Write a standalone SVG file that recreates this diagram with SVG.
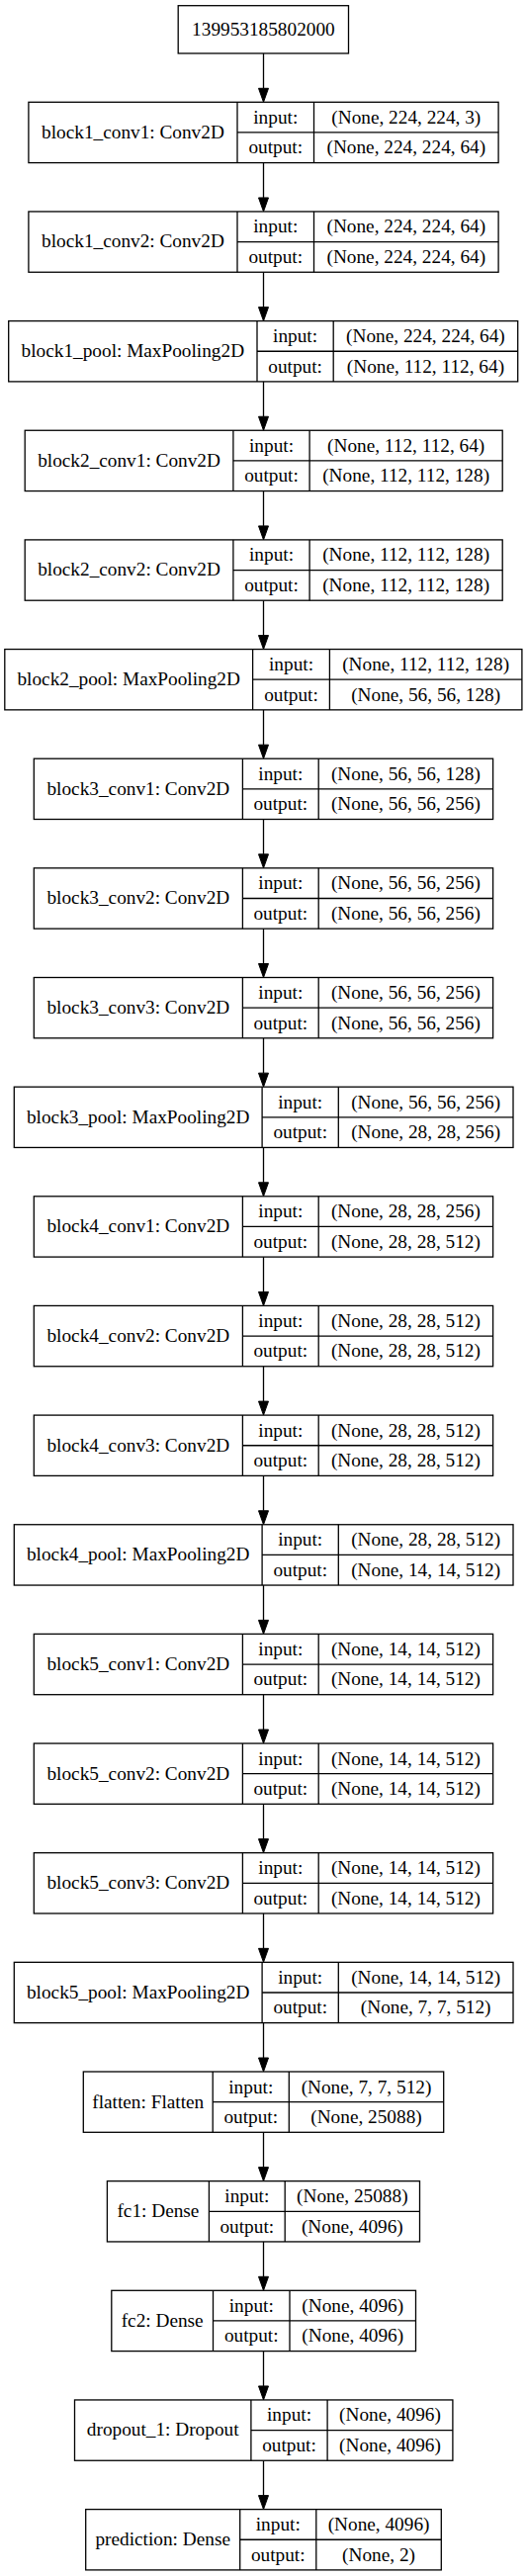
<svg xmlns="http://www.w3.org/2000/svg" width="533" height="2605" viewBox="0 0 533 2605">
<style>
.b{fill:#fff;stroke:#000;stroke-width:1.3}
.d{stroke:#000;stroke-width:1.3}
text{font-family:"Liberation Serif","Times New Roman",serif;font-size:19.3px;fill:#000;text-anchor:middle}
.e{stroke:#000;stroke-width:1.3;fill:none;marker-end:url(#ah)}
</style>
<defs>
<marker id="ah" markerUnits="userSpaceOnUse" markerWidth="14" markerHeight="10" refX="0" refY="5" orient="auto" overflow="visible">
<path d="M0,0 L14,5 L0,10 z" fill="#000" stroke="#000" stroke-width="1"/>
</marker>
</defs>
<rect width="533" height="2605" fill="#fff"/>
<g id="connectors">
<line class="e" x1="266.5" y1="54" x2="266.5" y2="89.3"/>
<line class="e" x1="266.5" y1="164.6" x2="266.5" y2="199.95"/>
<line class="e" x1="266.5" y1="275.25" x2="266.5" y2="310.6"/>
<line class="e" x1="266.5" y1="385.9" x2="266.5" y2="421.25"/>
<line class="e" x1="266.5" y1="496.55" x2="266.5" y2="531.9"/>
<line class="e" x1="266.5" y1="607.2" x2="266.5" y2="642.55"/>
<line class="e" x1="266.5" y1="717.85" x2="266.5" y2="753.2"/>
<line class="e" x1="266.5" y1="828.5" x2="266.5" y2="863.85"/>
<line class="e" x1="266.5" y1="939.15" x2="266.5" y2="974.5"/>
<line class="e" x1="266.5" y1="1049.8" x2="266.5" y2="1085.15"/>
<line class="e" x1="266.5" y1="1160.45" x2="266.5" y2="1195.8"/>
<line class="e" x1="266.5" y1="1271.1" x2="266.5" y2="1306.45"/>
<line class="e" x1="266.5" y1="1381.75" x2="266.5" y2="1417.1"/>
<line class="e" x1="266.5" y1="1492.4" x2="266.5" y2="1527.75"/>
<line class="e" x1="266.5" y1="1603.05" x2="266.5" y2="1638.4"/>
<line class="e" x1="266.5" y1="1713.7" x2="266.5" y2="1749.05"/>
<line class="e" x1="266.5" y1="1824.35" x2="266.5" y2="1859.7"/>
<line class="e" x1="266.5" y1="1935" x2="266.5" y2="1970.35"/>
<line class="e" x1="266.5" y1="2045.65" x2="266.5" y2="2081"/>
<line class="e" x1="266.5" y1="2156.3" x2="266.5" y2="2191.65"/>
<line class="e" x1="266.5" y1="2266.95" x2="266.5" y2="2302.3"/>
<line class="e" x1="266.5" y1="2377.6" x2="266.5" y2="2412.95"/>
<line class="e" x1="266.5" y1="2488.25" x2="266.5" y2="2523.6"/>
</g>
<g id="input_node">
<rect class="b" x="180.2" y="5.7" width="172.3" height="48.3"/>
<text x="266.4" y="35.5">139953185802000</text>
</g>
<g id="block1_conv1" transform="translate(0,103.3)">
<rect class="b" x="28.9" y="0" width="475.2" height="61.3"/>
<line class="d" x1="240" y1="0" x2="240" y2="61.3"/><line class="d" x1="317.5" y1="0" x2="317.5" y2="61.3"/><line class="d" x1="240" y1="30.65" x2="504.1" y2="30.65"/>
<text x="134.45" y="36.5">block1_conv1: Conv2D</text>
<text x="278.75" y="21.5">input:</text><text x="278.75" y="52">output:</text>
<text x="410.8" y="21.5">(None, 224, 224, 3)</text><text x="410.8" y="52">(None, 224, 224, 64)</text>
</g>
<g id="block1_conv2" transform="translate(0,213.95)">
<rect class="b" x="28.9" y="0" width="475.2" height="61.3"/>
<line class="d" x1="240" y1="0" x2="240" y2="61.3"/><line class="d" x1="317.5" y1="0" x2="317.5" y2="61.3"/><line class="d" x1="240" y1="30.65" x2="504.1" y2="30.65"/>
<text x="134.45" y="36.5">block1_conv2: Conv2D</text>
<text x="278.75" y="21.5">input:</text><text x="278.75" y="52">output:</text>
<text x="410.8" y="21.5">(None, 224, 224, 64)</text><text x="410.8" y="52">(None, 224, 224, 64)</text>
</g>
<g id="block1_pool" transform="translate(0,324.6)">
<rect class="b" x="8.7" y="0" width="515" height="61.3"/>
<line class="d" x1="260" y1="0" x2="260" y2="61.3"/><line class="d" x1="337.2" y1="0" x2="337.2" y2="61.3"/><line class="d" x1="260" y1="30.65" x2="523.7" y2="30.65"/>
<text x="134.35" y="36.5">block1_pool: MaxPooling2D</text>
<text x="298.6" y="21.5">input:</text><text x="298.6" y="52">output:</text>
<text x="430.45" y="21.5">(None, 224, 224, 64)</text><text x="430.45" y="52">(None, 112, 112, 64)</text>
</g>
<g id="block2_conv1" transform="translate(0,435.25)">
<rect class="b" x="25.2" y="0" width="483" height="61.3"/>
<line class="d" x1="235.9" y1="0" x2="235.9" y2="61.3"/><line class="d" x1="313.1" y1="0" x2="313.1" y2="61.3"/><line class="d" x1="235.9" y1="30.65" x2="508.2" y2="30.65"/>
<text x="130.55" y="36.5">block2_conv1: Conv2D</text>
<text x="274.5" y="21.5">input:</text><text x="274.5" y="52">output:</text>
<text x="410.65" y="21.5">(None, 112, 112, 64)</text><text x="410.65" y="52">(None, 112, 112, 128)</text>
</g>
<g id="block2_conv2" transform="translate(0,545.9)">
<rect class="b" x="25.2" y="0" width="483" height="61.3"/>
<line class="d" x1="235.9" y1="0" x2="235.9" y2="61.3"/><line class="d" x1="313.1" y1="0" x2="313.1" y2="61.3"/><line class="d" x1="235.9" y1="30.65" x2="508.2" y2="30.65"/>
<text x="130.55" y="36.5">block2_conv2: Conv2D</text>
<text x="274.5" y="21.5">input:</text><text x="274.5" y="52">output:</text>
<text x="410.65" y="21.5">(None, 112, 112, 128)</text><text x="410.65" y="52">(None, 112, 112, 128)</text>
</g>
<g id="block2_pool" transform="translate(0,656.55)">
<rect class="b" x="4.8" y="0" width="523.1" height="61.3"/>
<line class="d" x1="255.6" y1="0" x2="255.6" y2="61.3"/><line class="d" x1="333.4" y1="0" x2="333.4" y2="61.3"/><line class="d" x1="255.6" y1="30.65" x2="527.9" y2="30.65"/>
<text x="130.2" y="36.5">block2_pool: MaxPooling2D</text>
<text x="294.5" y="21.5">input:</text><text x="294.5" y="52">output:</text>
<text x="430.65" y="21.5">(None, 112, 112, 128)</text><text x="430.65" y="52">(None, 56, 56, 128)</text>
</g>
<g id="block3_conv1" transform="translate(0,767.2)">
<rect class="b" x="34.3" y="0" width="464.3" height="61.3"/>
<line class="d" x1="245.4" y1="0" x2="245.4" y2="61.3"/><line class="d" x1="322.2" y1="0" x2="322.2" y2="61.3"/><line class="d" x1="245.4" y1="30.65" x2="498.6" y2="30.65"/>
<text x="139.85" y="36.5">block3_conv1: Conv2D</text>
<text x="283.8" y="21.5">input:</text><text x="283.8" y="52">output:</text>
<text x="410.4" y="21.5">(None, 56, 56, 128)</text><text x="410.4" y="52">(None, 56, 56, 256)</text>
</g>
<g id="block3_conv2" transform="translate(0,877.85)">
<rect class="b" x="34.3" y="0" width="464.3" height="61.3"/>
<line class="d" x1="245.4" y1="0" x2="245.4" y2="61.3"/><line class="d" x1="322.2" y1="0" x2="322.2" y2="61.3"/><line class="d" x1="245.4" y1="30.65" x2="498.6" y2="30.65"/>
<text x="139.85" y="36.5">block3_conv2: Conv2D</text>
<text x="283.8" y="21.5">input:</text><text x="283.8" y="52">output:</text>
<text x="410.4" y="21.5">(None, 56, 56, 256)</text><text x="410.4" y="52">(None, 56, 56, 256)</text>
</g>
<g id="block3_conv3" transform="translate(0,988.5)">
<rect class="b" x="34.3" y="0" width="464.3" height="61.3"/>
<line class="d" x1="245.4" y1="0" x2="245.4" y2="61.3"/><line class="d" x1="322.2" y1="0" x2="322.2" y2="61.3"/><line class="d" x1="245.4" y1="30.65" x2="498.6" y2="30.65"/>
<text x="139.85" y="36.5">block3_conv3: Conv2D</text>
<text x="283.8" y="21.5">input:</text><text x="283.8" y="52">output:</text>
<text x="410.4" y="21.5">(None, 56, 56, 256)</text><text x="410.4" y="52">(None, 56, 56, 256)</text>
</g>
<g id="block3_pool" transform="translate(0,1099.15)">
<rect class="b" x="14.3" y="0" width="504.7" height="61.3"/>
<line class="d" x1="265.1" y1="0" x2="265.1" y2="61.3"/><line class="d" x1="342.3" y1="0" x2="342.3" y2="61.3"/><line class="d" x1="265.1" y1="30.65" x2="519" y2="30.65"/>
<text x="139.7" y="36.5">block3_pool: MaxPooling2D</text>
<text x="303.7" y="21.5">input:</text><text x="303.7" y="52">output:</text>
<text x="430.65" y="21.5">(None, 56, 56, 256)</text><text x="430.65" y="52">(None, 28, 28, 256)</text>
</g>
<g id="block4_conv1" transform="translate(0,1209.8)">
<rect class="b" x="34.3" y="0" width="464.3" height="61.3"/>
<line class="d" x1="245.4" y1="0" x2="245.4" y2="61.3"/><line class="d" x1="322.2" y1="0" x2="322.2" y2="61.3"/><line class="d" x1="245.4" y1="30.65" x2="498.6" y2="30.65"/>
<text x="139.85" y="36.5">block4_conv1: Conv2D</text>
<text x="283.8" y="21.5">input:</text><text x="283.8" y="52">output:</text>
<text x="410.4" y="21.5">(None, 28, 28, 256)</text><text x="410.4" y="52">(None, 28, 28, 512)</text>
</g>
<g id="block4_conv2" transform="translate(0,1320.45)">
<rect class="b" x="34.3" y="0" width="464.3" height="61.3"/>
<line class="d" x1="245.4" y1="0" x2="245.4" y2="61.3"/><line class="d" x1="322.2" y1="0" x2="322.2" y2="61.3"/><line class="d" x1="245.4" y1="30.65" x2="498.6" y2="30.65"/>
<text x="139.85" y="36.5">block4_conv2: Conv2D</text>
<text x="283.8" y="21.5">input:</text><text x="283.8" y="52">output:</text>
<text x="410.4" y="21.5">(None, 28, 28, 512)</text><text x="410.4" y="52">(None, 28, 28, 512)</text>
</g>
<g id="block4_conv3" transform="translate(0,1431.1)">
<rect class="b" x="34.3" y="0" width="464.3" height="61.3"/>
<line class="d" x1="245.4" y1="0" x2="245.4" y2="61.3"/><line class="d" x1="322.2" y1="0" x2="322.2" y2="61.3"/><line class="d" x1="245.4" y1="30.65" x2="498.6" y2="30.65"/>
<text x="139.85" y="36.5">block4_conv3: Conv2D</text>
<text x="283.8" y="21.5">input:</text><text x="283.8" y="52">output:</text>
<text x="410.4" y="21.5">(None, 28, 28, 512)</text><text x="410.4" y="52">(None, 28, 28, 512)</text>
</g>
<g id="block4_pool" transform="translate(0,1541.75)">
<rect class="b" x="14.3" y="0" width="504.7" height="61.3"/>
<line class="d" x1="265.1" y1="0" x2="265.1" y2="61.3"/><line class="d" x1="342.3" y1="0" x2="342.3" y2="61.3"/><line class="d" x1="265.1" y1="30.65" x2="519" y2="30.65"/>
<text x="139.7" y="36.5">block4_pool: MaxPooling2D</text>
<text x="303.7" y="21.5">input:</text><text x="303.7" y="52">output:</text>
<text x="430.65" y="21.5">(None, 28, 28, 512)</text><text x="430.65" y="52">(None, 14, 14, 512)</text>
</g>
<g id="block5_conv1" transform="translate(0,1652.4)">
<rect class="b" x="34.3" y="0" width="464.3" height="61.3"/>
<line class="d" x1="245.4" y1="0" x2="245.4" y2="61.3"/><line class="d" x1="322.2" y1="0" x2="322.2" y2="61.3"/><line class="d" x1="245.4" y1="30.65" x2="498.6" y2="30.65"/>
<text x="139.85" y="36.5">block5_conv1: Conv2D</text>
<text x="283.8" y="21.5">input:</text><text x="283.8" y="52">output:</text>
<text x="410.4" y="21.5">(None, 14, 14, 512)</text><text x="410.4" y="52">(None, 14, 14, 512)</text>
</g>
<g id="block5_conv2" transform="translate(0,1763.05)">
<rect class="b" x="34.3" y="0" width="464.3" height="61.3"/>
<line class="d" x1="245.4" y1="0" x2="245.4" y2="61.3"/><line class="d" x1="322.2" y1="0" x2="322.2" y2="61.3"/><line class="d" x1="245.4" y1="30.65" x2="498.6" y2="30.65"/>
<text x="139.85" y="36.5">block5_conv2: Conv2D</text>
<text x="283.8" y="21.5">input:</text><text x="283.8" y="52">output:</text>
<text x="410.4" y="21.5">(None, 14, 14, 512)</text><text x="410.4" y="52">(None, 14, 14, 512)</text>
</g>
<g id="block5_conv3" transform="translate(0,1873.7)">
<rect class="b" x="34.3" y="0" width="464.3" height="61.3"/>
<line class="d" x1="245.4" y1="0" x2="245.4" y2="61.3"/><line class="d" x1="322.2" y1="0" x2="322.2" y2="61.3"/><line class="d" x1="245.4" y1="30.65" x2="498.6" y2="30.65"/>
<text x="139.85" y="36.5">block5_conv3: Conv2D</text>
<text x="283.8" y="21.5">input:</text><text x="283.8" y="52">output:</text>
<text x="410.4" y="21.5">(None, 14, 14, 512)</text><text x="410.4" y="52">(None, 14, 14, 512)</text>
</g>
<g id="block5_pool" transform="translate(0,1984.35)">
<rect class="b" x="14.3" y="0" width="504.7" height="61.3"/>
<line class="d" x1="265.1" y1="0" x2="265.1" y2="61.3"/><line class="d" x1="342.3" y1="0" x2="342.3" y2="61.3"/><line class="d" x1="265.1" y1="30.65" x2="519" y2="30.65"/>
<text x="139.7" y="36.5">block5_pool: MaxPooling2D</text>
<text x="303.7" y="21.5">input:</text><text x="303.7" y="52">output:</text>
<text x="430.65" y="21.5">(None, 14, 14, 512)</text><text x="430.65" y="52">(None, 7, 7, 512)</text>
</g>
<g id="flatten" transform="translate(0,2095)">
<rect class="b" x="84.3" y="0" width="364.4" height="61.3"/>
<line class="d" x1="215.2" y1="0" x2="215.2" y2="61.3"/><line class="d" x1="292.3" y1="0" x2="292.3" y2="61.3"/><line class="d" x1="215.2" y1="30.65" x2="448.7" y2="30.65"/>
<text x="149.75" y="36.5">flatten: Flatten</text>
<text x="253.75" y="21.5">input:</text><text x="253.75" y="52">output:</text>
<text x="370.5" y="21.5">(None, 7, 7, 512)</text><text x="370.5" y="52">(None, 25088)</text>
</g>
<g id="fc1" transform="translate(0,2205.65)">
<rect class="b" x="108.4" y="0" width="316.1" height="61.3"/>
<line class="d" x1="211.4" y1="0" x2="211.4" y2="61.3"/><line class="d" x1="288.2" y1="0" x2="288.2" y2="61.3"/><line class="d" x1="211.4" y1="30.65" x2="424.5" y2="30.65"/>
<text x="159.9" y="36.5">fc1: Dense</text>
<text x="249.8" y="21.5">input:</text><text x="249.8" y="52">output:</text>
<text x="356.35" y="21.5">(None, 25088)</text><text x="356.35" y="52">(None, 4096)</text>
</g>
<g id="fc2" transform="translate(0,2316.3)">
<rect class="b" x="112.8" y="0" width="307.7" height="61.3"/>
<line class="d" x1="215.5" y1="0" x2="215.5" y2="61.3"/><line class="d" x1="293" y1="0" x2="293" y2="61.3"/><line class="d" x1="215.5" y1="30.65" x2="420.5" y2="30.65"/>
<text x="164.15" y="36.5">fc2: Dense</text>
<text x="254.25" y="21.5">input:</text><text x="254.25" y="52">output:</text>
<text x="356.75" y="21.5">(None, 4096)</text><text x="356.75" y="52">(None, 4096)</text>
</g>
<g id="dropout_1" transform="translate(0,2426.95)">
<rect class="b" x="75.5" y="0" width="382.4" height="61.3"/>
<line class="d" x1="253.9" y1="0" x2="253.9" y2="61.3"/><line class="d" x1="331.1" y1="0" x2="331.1" y2="61.3"/><line class="d" x1="253.9" y1="30.65" x2="457.9" y2="30.65"/>
<text x="164.7" y="36.5">dropout_1: Dropout</text>
<text x="292.5" y="21.5">input:</text><text x="292.5" y="52">output:</text>
<text x="394.5" y="21.5">(None, 4096)</text><text x="394.5" y="52">(None, 4096)</text>
</g>
<g id="prediction" transform="translate(0,2537.6)">
<rect class="b" x="86.7" y="0" width="359.6" height="61.3"/>
<line class="d" x1="242.7" y1="0" x2="242.7" y2="61.3"/><line class="d" x1="319.8" y1="0" x2="319.8" y2="61.3"/><line class="d" x1="242.7" y1="30.65" x2="446.3" y2="30.65"/>
<text x="164.7" y="36.5">prediction: Dense</text>
<text x="281.25" y="21.5">input:</text><text x="281.25" y="52">output:</text>
<text x="383.05" y="21.5">(None, 4096)</text><text x="383.05" y="52">(None, 2)</text>
</g>
</svg>
